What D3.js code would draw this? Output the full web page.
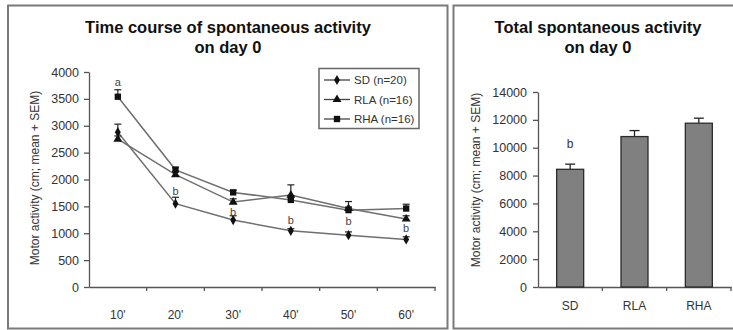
<!DOCTYPE html>
<html>
<head>
<meta charset="utf-8">
<script src="https://cdn.jsdelivr.net/npm/d3@7/dist/d3.min.js"></script>
<style>
  body { margin: 0; background: #fff; }
  svg { display: block; font-family: "Liberation Sans", Arial, sans-serif; }
</style>
</head>
<body>
<svg id="chart" width="733" height="330"></svg>
<script>
// --- data ---
const times = ["10'", "20'", "30'", "40'", "50'", "60'"];
const sdMean  = [2880, 1550, 1245, 1045, 965, 885];
const sdErr   = [150, 120, 80, 40, 60, 50];
const rlaMean = [2750, 2090, 1580, 1710, 1460, 1265];
const rlaErr  = [60, 60, 60, 190, 130, 60];
const rhaMean = [3540, 2180, 1760, 1620, 1430, 1460];
const rhaErr  = [130, 50, 40, 80, 60, 80];
const lineTicks = [0, 500, 1000, 1500, 2000, 2500, 3000, 3500, 4000];
// letters above points: [letter, category index, y value of text baseline]
const lineLetters = [["a", 0, 3740], ["b", 1, 1720], ["b", 2, 1320], ["b", 3, 1170], ["b", 4, 1150], ["b", 5, 1030]];

const groups = ["SD", "RLA", "RHA"];
const totalMean = [8450, 10800, 11760];
const totalErr  = [370, 430, 360];
const barTicks = [0, 2000, 4000, 6000, 8000, 10000, 12000, 14000];
const barLetters = [["b", 0, 9960]];

const seriesNames = ["SD (n=20)", "RLA (n=16)", "RHA (n=16)"];
const seriesMean = [sdMean, rlaMean, rhaMean];
const seriesErr = [sdErr, rlaErr, rhaErr];
const symbols = [d3.symbolDiamond, d3.symbolTriangle, d3.symbolSquare];
const symbolSize = [30, 34, 40];

const svg = d3.select("#chart");
const lineCol = "#6f6f6f";
const axisCol = "#555";
const fmt = d3.format("d");

// panel frames
svg.append("rect").attr("x", 8).attr("y", 5.5).attr("width", 439.5).attr("height", 323)
  .attr("fill", "none").attr("stroke", "#7a7a7a").attr("stroke-width", 2);
svg.append("rect").attr("x", 453.5).attr("y", 5.5).attr("width", 290).attr("height", 323)
  .attr("fill", "none").attr("stroke", "#7a7a7a").attr("stroke-width", 2);

function title(cx, lines) {
  lines.forEach((t, i) => {
    svg.append("text").attr("x", cx).attr("y", 33 + i * 20)
      .attr("text-anchor", "middle").attr("font-size", 16.5).attr("font-weight", "bold")
      .attr("fill", "#111").text(t);
  });
}
function yLabel(x, y) {
  svg.append("text").attr("transform", `translate(${x},${y}) rotate(-90)`)
    .attr("text-anchor", "middle").attr("font-size", 12).attr("fill", "#333")
    .text("Motor activity (cm; mean + SEM)");
}
function styleAxis(g) {
  g.selectAll("path, line").attr("stroke", axisCol).attr("stroke-width", 1.3);
  g.selectAll("text").attr("fill", "#333").attr("font-size", 12.5);
}

// ===== left: time course =====
title(228, ["Time course of spontaneous activity", "on day 0"]);
yLabel(39, 178);

const x1 = d3.scaleBand().domain(times).range([89, 435]);
const y1 = d3.scaleLinear().domain([0, 4000]).range([287, 72]);

svg.append("g").attr("transform", "translate(89,0)")
  .call(d3.axisLeft(y1).tickValues(lineTicks).tickFormat(fmt).tickSize(5).tickSizeOuter(0).tickPadding(5))
  .call(styleAxis);
const gx1 = svg.append("g").attr("transform", "translate(0,287)")
  .call(d3.axisBottom(x1).tickSize(0).tickPadding(23))
  .call(styleAxis);
gx1.selectAll("text").attr("font-size", 12);
times.forEach(t => {
  gx1.append("line").attr("x1", x1(t) + x1.step()).attr("x2", x1(t) + x1.step())
    .attr("y1", 0).attr("y2", 4).attr("stroke", axisCol).attr("stroke-width", 1.3);
});

const cx1 = t => x1(t) + x1.bandwidth() / 2;
const line1 = d3.line().x((d, i) => cx1(times[i])).y(d => y1(d));

seriesMean.forEach(vals => {
  svg.append("path").datum(vals).attr("d", line1)
    .attr("fill", "none").attr("stroke", lineCol).attr("stroke-width", 1.5);
});
seriesMean.forEach((vals, s) => {
  vals.forEach((v, i) => {
    const x = cx1(times[i]);
    const top = y1(v + seriesErr[s][i]);
    svg.append("line").attr("x1", x).attr("x2", x).attr("y1", y1(v)).attr("y2", top)
      .attr("stroke", "#222").attr("stroke-width", 1.2);
    svg.append("line").attr("x1", x - 3.5).attr("x2", x + 3.5).attr("y1", top).attr("y2", top)
      .attr("stroke", "#222").attr("stroke-width", 1.2);
  });
});
seriesMean.forEach((vals, s) => {
  vals.forEach((v, i) => {
    svg.append("path").attr("d", d3.symbol(symbols[s], symbolSize[s])())
      .attr("transform", `translate(${cx1(times[i])},${y1(v)})`).attr("fill", "#111");
  });
});
lineLetters.forEach(([l, i, v]) => {
  svg.append("text").attr("x", cx1(times[i])).attr("y", y1(v))
    .attr("text-anchor", "middle").attr("font-size", 11).attr("fill", "#444").text(l);
});

// legend
const lg = svg.append("g");
lg.append("rect").attr("x", 319).attr("y", 68.5).attr("width", 100).attr("height", 60)
  .attr("fill", "#fff").attr("stroke", "#666").attr("stroke-width", 1.5);
seriesNames.forEach((n, s) => {
  const yy = 80 + s * 19.5;
  lg.append("line").attr("x1", 324).attr("x2", 350).attr("y1", yy).attr("y2", yy)
    .attr("stroke", "#444").attr("stroke-width", 1.3);
  lg.append("path").attr("d", d3.symbol(symbols[s], symbolSize[s])())
    .attr("transform", `translate(337,${yy})`).attr("fill", "#111");
  lg.append("text").attr("x", 354).attr("y", yy + 4.2).attr("font-size", 11.5)
    .attr("fill", "#333").text(n);
});

// ===== right: totals =====
title(598, ["Total spontaneous activity", "on day 0"]);
yLabel(480, 180);

const x2 = d3.scaleBand().domain(groups).range([538, 731]);
const y2 = d3.scaleLinear().domain([0, 14000]).range([287, 92]);

svg.append("g").attr("transform", "translate(538,0)")
  .call(d3.axisLeft(y2).tickValues(barTicks).tickFormat(fmt).tickSize(5).tickSizeOuter(0).tickPadding(6))
  .call(styleAxis);
const gx2 = svg.append("g").attr("transform", "translate(0,287)")
  .call(d3.axisBottom(x2).tickSize(0).tickPadding(14))
  .call(styleAxis);
gx2.selectAll("text").attr("font-size", 12);
groups.forEach(g => {
  gx2.append("line").attr("x1", x2(g) + x2.step()).attr("x2", x2(g) + x2.step())
    .attr("y1", 0).attr("y2", 4).attr("stroke", axisCol).attr("stroke-width", 1.3);
});

const barW = 27;
const cx2 = g => x2(g) + x2.bandwidth() / 2;
groups.forEach((g, i) => {
  const x = cx2(g);
  const top = y2(totalMean[i] + totalErr[i]);
  svg.append("line").attr("x1", x).attr("x2", x).attr("y1", y2(totalMean[i])).attr("y2", top)
    .attr("stroke", "#222").attr("stroke-width", 1.3);
  svg.append("line").attr("x1", x - 5).attr("x2", x + 5).attr("y1", top).attr("y2", top)
    .attr("stroke", "#222").attr("stroke-width", 1.3);
  svg.append("rect").attr("x", x - barW / 2).attr("y", y2(totalMean[i]))
    .attr("width", barW).attr("height", y2(0) - y2(totalMean[i]))
    .attr("fill", "#808080").attr("stroke", "#2a2a2a").attr("stroke-width", 1.3);
});
barLetters.forEach(([l, i, v]) => {
  svg.append("text").attr("x", cx2(groups[i])).attr("y", y2(v))
    .attr("text-anchor", "middle").attr("font-size", 12).attr("fill", "#333").text(l);
});
</script>
</body>
</html>
